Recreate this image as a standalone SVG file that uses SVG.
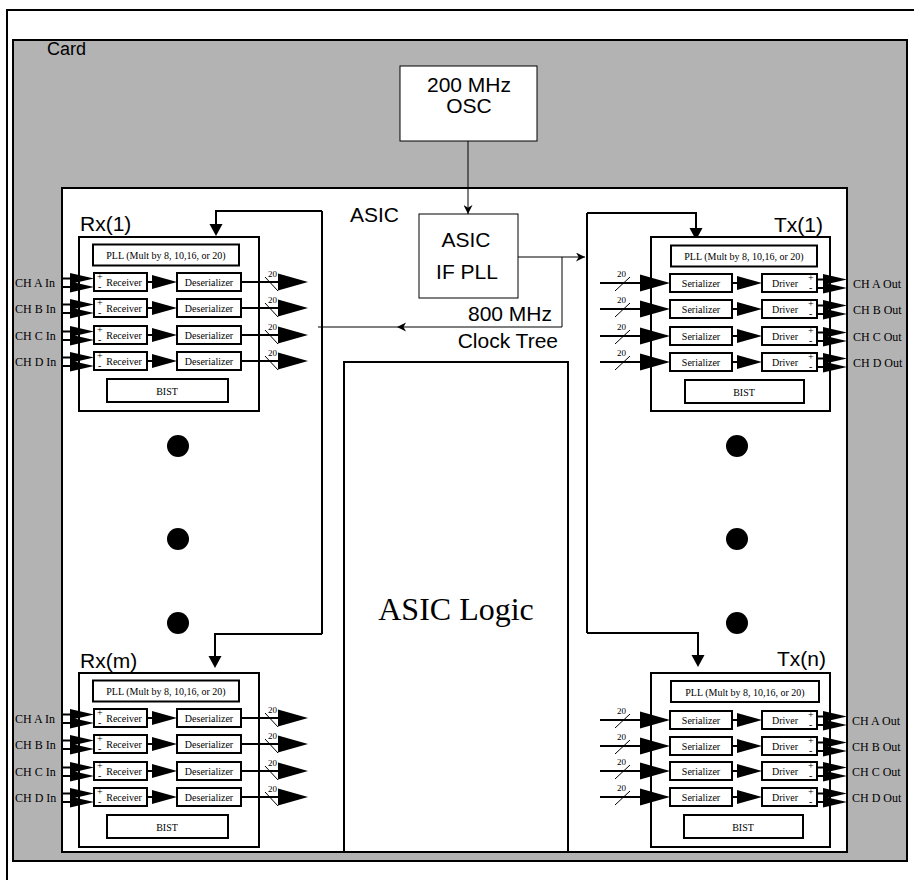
<svg xmlns="http://www.w3.org/2000/svg" width="914" height="880" viewBox="0 0 914 880">
<style>
.frame{fill:none;stroke:#000;stroke-width:2}
.card{fill:#b3b3b3;stroke:#000;stroke-width:2}
.wbox{fill:#fff;stroke:#000;stroke-width:2}
.tbox{fill:#fff;stroke:#000;stroke-width:1}
.bx{fill:#fff;stroke:#000;stroke-width:2}
.ln{fill:none;stroke:#000;stroke-width:2}
.thin{fill:none;stroke:#000;stroke-width:1}
.f{fill:#000;stroke:none}
.lbl{font-family:"Liberation Sans",Arial,sans-serif;font-size:21px;fill:#000}
.mid{text-anchor:middle}
.end{text-anchor:end}
.sm{font-family:"Liberation Serif","Times New Roman",serif;font-size:10px;text-anchor:middle;fill:#000}
.ch{font-family:"Liberation Serif","Times New Roman",serif;font-size:12px;fill:#000}
.pm{font-family:"Liberation Serif","Times New Roman",serif;font-size:10px;fill:#000}
.n20{font-family:"Liberation Serif","Times New Roman",serif;font-size:9px;fill:#000}
.big{font-family:"Liberation Serif","Times New Roman",serif;font-size:32px;text-anchor:middle;fill:#000}
</style>
<defs>
<marker id="ah" viewBox="0 0 10 10" refX="10" refY="5" markerWidth="9" markerHeight="9" markerUnits="userSpaceOnUse" orient="auto">
<path d="M0,0 L10,5 L0,10 L3,5 Z" fill="#000"/>
</marker>
</defs>
<rect width="914" height="880" fill="#fff"/>
<g id="outer"><rect class="frame" x="7" y="10" width="912" height="880"/></g>
<g id="card"><rect class="card" x="13" y="40" width="894" height="821"/><text class="lbl" x="47" y="55" style="font-size:18px">Card</text></g>
<g id="osc"><rect class="tbox" x="400" y="66" width="137" height="75"/><text class="lbl mid" x="469" y="92">200 MHz</text><text class="lbl mid" x="469" y="113">OSC</text></g>
<g id="asic"><rect class="wbox" x="62" y="188" width="785" height="664"/><text class="lbl" x="350" y="222">ASIC</text></g>
<g id="ifpll"><rect class="tbox" x="419" y="214" width="99" height="84"/><text class="lbl mid" x="466" y="247">ASIC</text><text class="lbl mid" x="467" y="279">IF PLL</text></g>
<g id="clocklabel"><text class="lbl end" x="552" y="321">800 MHz</text><text class="lbl end" x="558" y="348">Clock Tree</text></g>
<g id="asiclogic"><rect class="wbox" x="344" y="362" width="224" height="490"/><text class="big" x="456" y="620">ASIC Logic</text></g>

<g id="connectors">
<line class="thin" x1="468" y1="141" x2="468" y2="214" marker-end="url(#ah)"/>
<line class="thin" x1="518" y1="257" x2="585" y2="257" marker-end="url(#ah)"/>
<polyline class="thin" points="562,257 562,327 318,327"/>
<path class="f" d="M397,327 L406,322.5 L403.5,327 L406,331.5 Z"/>
<line class="ln" x1="322" y1="211" x2="322" y2="634"/>
<polyline class="ln" points="322,211 216,211 216,225"/>
<polygon class="f" points="216,236 209.5,224 222.5,224"/>
<polyline class="ln" points="322,634 215,634 215,657"/>
<polygon class="f" points="215,668 208.5,656 221.5,656"/>
<line class="ln" x1="587" y1="213" x2="587" y2="633"/>
<polyline class="ln" points="587,213 696,213 696,229"/>
<polygon class="f" points="696,240 689.5,228 702.5,228"/>
<polyline class="ln" points="587,633 698,633 698,656"/>
<polygon class="f" points="698,667 691.5,655 704.5,655"/>
</g>

<g id="dots">
<circle cx="178" cy="446" r="11"/><circle cx="178" cy="539" r="11"/><circle cx="178" cy="623" r="11"/>
<circle cx="737" cy="446" r="11"/><circle cx="737" cy="539" r="11"/><circle cx="737" cy="623" r="11"/>
</g>

<g id="rx1">
<text class="lbl" x="80" y="231">Rx(1)</text>
<rect class="bx" x="79" y="237" width="180" height="174"/>
<rect class="bx" x="93" y="244.5" width="146" height="21"/>
<text class="sm" x="166" y="259">PLL (Mult by 8, 10,16, or 20)</text>
<rect class="bx" x="107" y="379" width="121" height="23"/>
<text class="sm" x="167" y="395">BIST</text>
<g transform="translate(0,273)">
<text class="ch" x="15" y="14">CH A In</text>
<line class="ln" x1="63" y1="5.5" x2="75" y2="5.5"/><line class="ln" x1="63" y1="14" x2="75" y2="14"/>
<polygon class="f" points="94,5.5 70,0 70,11"/><polygon class="f" points="94,14 70,8.5 70,19.5"/>
<rect class="bx" x="94" y="0" width="53" height="18"/>
<text class="pm" x="97" y="7">+</text><text class="pm" x="98" y="17">-</text>
<text class="sm" x="124" y="13">Receiver</text>
<line class="ln" x1="147" y1="9" x2="156" y2="9"/><polygon class="f" points="177,9 152,2 152,16"/>
<rect class="bx" x="177" y="0" width="64" height="18"/>
<text class="sm" x="209" y="13">Deserializer</text>
<line class="ln" x1="241" y1="9" x2="282" y2="9"/><polygon class="f" points="308,9 278,0.5 278,17.5"/>
<line class="thin" x1="265" y1="4" x2="278" y2="18" stroke-width="1.2"/>
<text class="n20" x="268" y="4">20</text>
</g>
<g transform="translate(0,299)">
<text class="ch" x="15" y="14">CH B In</text>
<line class="ln" x1="63" y1="5.5" x2="75" y2="5.5"/><line class="ln" x1="63" y1="14" x2="75" y2="14"/>
<polygon class="f" points="94,5.5 70,0 70,11"/><polygon class="f" points="94,14 70,8.5 70,19.5"/>
<rect class="bx" x="94" y="0" width="53" height="18"/>
<text class="pm" x="97" y="7">+</text><text class="pm" x="98" y="17">-</text>
<text class="sm" x="124" y="13">Receiver</text>
<line class="ln" x1="147" y1="9" x2="156" y2="9"/><polygon class="f" points="177,9 152,2 152,16"/>
<rect class="bx" x="177" y="0" width="64" height="18"/>
<text class="sm" x="209" y="13">Deserializer</text>
<line class="ln" x1="241" y1="9" x2="282" y2="9"/><polygon class="f" points="308,9 278,0.5 278,17.5"/>
<line class="thin" x1="265" y1="4" x2="278" y2="18" stroke-width="1.2"/>
<text class="n20" x="268" y="4">20</text>
</g>
<g transform="translate(0,326)">
<text class="ch" x="15" y="14">CH C In</text>
<line class="ln" x1="63" y1="5.5" x2="75" y2="5.5"/><line class="ln" x1="63" y1="14" x2="75" y2="14"/>
<polygon class="f" points="94,5.5 70,0 70,11"/><polygon class="f" points="94,14 70,8.5 70,19.5"/>
<rect class="bx" x="94" y="0" width="53" height="18"/>
<text class="pm" x="97" y="7">+</text><text class="pm" x="98" y="17">-</text>
<text class="sm" x="124" y="13">Receiver</text>
<line class="ln" x1="147" y1="9" x2="156" y2="9"/><polygon class="f" points="177,9 152,2 152,16"/>
<rect class="bx" x="177" y="0" width="64" height="18"/>
<text class="sm" x="209" y="13">Deserializer</text>
<line class="ln" x1="241" y1="9" x2="282" y2="9"/><polygon class="f" points="308,9 278,0.5 278,17.5"/>
<line class="thin" x1="265" y1="4" x2="278" y2="18" stroke-width="1.2"/>
<text class="n20" x="268" y="4">20</text>
</g>
<g transform="translate(0,352)">
<text class="ch" x="15" y="14">CH D In</text>
<line class="ln" x1="63" y1="5.5" x2="75" y2="5.5"/><line class="ln" x1="63" y1="14" x2="75" y2="14"/>
<polygon class="f" points="94,5.5 70,0 70,11"/><polygon class="f" points="94,14 70,8.5 70,19.5"/>
<rect class="bx" x="94" y="0" width="53" height="18"/>
<text class="pm" x="97" y="7">+</text><text class="pm" x="98" y="17">-</text>
<text class="sm" x="124" y="13">Receiver</text>
<line class="ln" x1="147" y1="9" x2="156" y2="9"/><polygon class="f" points="177,9 152,2 152,16"/>
<rect class="bx" x="177" y="0" width="64" height="18"/>
<text class="sm" x="209" y="13">Deserializer</text>
<line class="ln" x1="241" y1="9" x2="282" y2="9"/><polygon class="f" points="308,9 278,0.5 278,17.5"/>
<line class="thin" x1="265" y1="4" x2="278" y2="18" stroke-width="1.2"/>
<text class="n20" x="268" y="4">20</text>
</g>
</g>

<g id="rxm">
<text class="lbl" x="80" y="668">Rx(m)</text>
<rect class="bx" x="79" y="673" width="180" height="174"/>
<rect class="bx" x="93" y="680.5" width="146" height="21"/>
<text class="sm" x="166" y="695">PLL (Mult by 8, 10,16, or 20)</text>
<rect class="bx" x="107" y="815" width="121" height="23"/>
<text class="sm" x="167" y="831">BIST</text>
<g transform="translate(0,709)">
<text class="ch" x="15" y="14">CH A In</text>
<line class="ln" x1="63" y1="5.5" x2="75" y2="5.5"/><line class="ln" x1="63" y1="14" x2="75" y2="14"/>
<polygon class="f" points="94,5.5 70,0 70,11"/><polygon class="f" points="94,14 70,8.5 70,19.5"/>
<rect class="bx" x="94" y="0" width="53" height="18"/>
<text class="pm" x="97" y="7">+</text><text class="pm" x="98" y="17">-</text>
<text class="sm" x="124" y="13">Receiver</text>
<line class="ln" x1="147" y1="9" x2="156" y2="9"/><polygon class="f" points="177,9 152,2 152,16"/>
<rect class="bx" x="177" y="0" width="64" height="18"/>
<text class="sm" x="209" y="13">Deserializer</text>
<line class="ln" x1="241" y1="9" x2="282" y2="9"/><polygon class="f" points="308,9 278,0.5 278,17.5"/>
<line class="thin" x1="265" y1="4" x2="278" y2="18" stroke-width="1.2"/>
<text class="n20" x="268" y="4">20</text>
</g>
<g transform="translate(0,735)">
<text class="ch" x="15" y="14">CH B In</text>
<line class="ln" x1="63" y1="5.5" x2="75" y2="5.5"/><line class="ln" x1="63" y1="14" x2="75" y2="14"/>
<polygon class="f" points="94,5.5 70,0 70,11"/><polygon class="f" points="94,14 70,8.5 70,19.5"/>
<rect class="bx" x="94" y="0" width="53" height="18"/>
<text class="pm" x="97" y="7">+</text><text class="pm" x="98" y="17">-</text>
<text class="sm" x="124" y="13">Receiver</text>
<line class="ln" x1="147" y1="9" x2="156" y2="9"/><polygon class="f" points="177,9 152,2 152,16"/>
<rect class="bx" x="177" y="0" width="64" height="18"/>
<text class="sm" x="209" y="13">Deserializer</text>
<line class="ln" x1="241" y1="9" x2="282" y2="9"/><polygon class="f" points="308,9 278,0.5 278,17.5"/>
<line class="thin" x1="265" y1="4" x2="278" y2="18" stroke-width="1.2"/>
<text class="n20" x="268" y="4">20</text>
</g>
<g transform="translate(0,762)">
<text class="ch" x="15" y="14">CH C In</text>
<line class="ln" x1="63" y1="5.5" x2="75" y2="5.5"/><line class="ln" x1="63" y1="14" x2="75" y2="14"/>
<polygon class="f" points="94,5.5 70,0 70,11"/><polygon class="f" points="94,14 70,8.5 70,19.5"/>
<rect class="bx" x="94" y="0" width="53" height="18"/>
<text class="pm" x="97" y="7">+</text><text class="pm" x="98" y="17">-</text>
<text class="sm" x="124" y="13">Receiver</text>
<line class="ln" x1="147" y1="9" x2="156" y2="9"/><polygon class="f" points="177,9 152,2 152,16"/>
<rect class="bx" x="177" y="0" width="64" height="18"/>
<text class="sm" x="209" y="13">Deserializer</text>
<line class="ln" x1="241" y1="9" x2="282" y2="9"/><polygon class="f" points="308,9 278,0.5 278,17.5"/>
<line class="thin" x1="265" y1="4" x2="278" y2="18" stroke-width="1.2"/>
<text class="n20" x="268" y="4">20</text>
</g>
<g transform="translate(0,788)">
<text class="ch" x="15" y="14">CH D In</text>
<line class="ln" x1="63" y1="5.5" x2="75" y2="5.5"/><line class="ln" x1="63" y1="14" x2="75" y2="14"/>
<polygon class="f" points="94,5.5 70,0 70,11"/><polygon class="f" points="94,14 70,8.5 70,19.5"/>
<rect class="bx" x="94" y="0" width="53" height="18"/>
<text class="pm" x="97" y="7">+</text><text class="pm" x="98" y="17">-</text>
<text class="sm" x="124" y="13">Receiver</text>
<line class="ln" x1="147" y1="9" x2="156" y2="9"/><polygon class="f" points="177,9 152,2 152,16"/>
<rect class="bx" x="177" y="0" width="64" height="18"/>
<text class="sm" x="209" y="13">Deserializer</text>
<line class="ln" x1="241" y1="9" x2="282" y2="9"/><polygon class="f" points="308,9 278,0.5 278,17.5"/>
<line class="thin" x1="265" y1="4" x2="278" y2="18" stroke-width="1.2"/>
<text class="n20" x="268" y="4">20</text>
</g>
</g>

<g id="tx1">
<text class="lbl" x="774" y="232">Tx(1)</text>
<rect class="bx" x="651" y="237" width="179" height="174"/>
<rect class="bx" x="671" y="245.5" width="146" height="21"/>
<text class="sm" x="744" y="260">PLL (Mult by 8, 10,16, or 20)</text>
<rect class="bx" x="685" y="380" width="119" height="23"/>
<text class="sm" x="744" y="396">BIST</text>
<g transform="translate(0,274)">
<line class="ln" x1="600" y1="9" x2="644" y2="9"/><line class="thin" x1="615" y1="17" x2="630" y2="3" stroke-width="1.2"/>
<text class="n20" x="617" y="3">20</text>
<polygon class="f" points="670,9 640,0.5 640,17.5"/>
<rect class="bx" x="670" y="0" width="62" height="18"/>
<text class="sm" x="701" y="13">Serializer</text>
<line class="ln" x1="732" y1="9" x2="741" y2="9"/><polygon class="f" points="762,9 737,2 737,16"/>
<rect class="bx" x="762" y="0" width="55" height="18"/>
<text class="sm" x="785" y="13">Driver</text>
<text class="pm" x="808" y="7">+</text><text class="pm" x="809" y="17">-</text>
<line class="ln" x1="817" y1="5.5" x2="828" y2="5.5"/><line class="ln" x1="817" y1="14" x2="828" y2="14"/>
<polygon class="f" points="847,5.5 823,0 823,11"/><polygon class="f" points="847,14 823,8.5 823,19.5"/>
<text class="ch" x="853" y="14">CH A Out</text>
</g>
<g transform="translate(0,300)">
<line class="ln" x1="600" y1="9" x2="644" y2="9"/><line class="thin" x1="615" y1="17" x2="630" y2="3" stroke-width="1.2"/>
<text class="n20" x="617" y="3">20</text>
<polygon class="f" points="670,9 640,0.5 640,17.5"/>
<rect class="bx" x="670" y="0" width="62" height="18"/>
<text class="sm" x="701" y="13">Serializer</text>
<line class="ln" x1="732" y1="9" x2="741" y2="9"/><polygon class="f" points="762,9 737,2 737,16"/>
<rect class="bx" x="762" y="0" width="55" height="18"/>
<text class="sm" x="785" y="13">Driver</text>
<text class="pm" x="808" y="7">+</text><text class="pm" x="809" y="17">-</text>
<line class="ln" x1="817" y1="5.5" x2="828" y2="5.5"/><line class="ln" x1="817" y1="14" x2="828" y2="14"/>
<polygon class="f" points="847,5.5 823,0 823,11"/><polygon class="f" points="847,14 823,8.5 823,19.5"/>
<text class="ch" x="853" y="14">CH B Out</text>
</g>
<g transform="translate(0,327)">
<line class="ln" x1="600" y1="9" x2="644" y2="9"/><line class="thin" x1="615" y1="17" x2="630" y2="3" stroke-width="1.2"/>
<text class="n20" x="617" y="3">20</text>
<polygon class="f" points="670,9 640,0.5 640,17.5"/>
<rect class="bx" x="670" y="0" width="62" height="18"/>
<text class="sm" x="701" y="13">Serializer</text>
<line class="ln" x1="732" y1="9" x2="741" y2="9"/><polygon class="f" points="762,9 737,2 737,16"/>
<rect class="bx" x="762" y="0" width="55" height="18"/>
<text class="sm" x="785" y="13">Driver</text>
<text class="pm" x="808" y="7">+</text><text class="pm" x="809" y="17">-</text>
<line class="ln" x1="817" y1="5.5" x2="828" y2="5.5"/><line class="ln" x1="817" y1="14" x2="828" y2="14"/>
<polygon class="f" points="847,5.5 823,0 823,11"/><polygon class="f" points="847,14 823,8.5 823,19.5"/>
<text class="ch" x="853" y="14">CH C Out</text>
</g>
<g transform="translate(0,353)">
<line class="ln" x1="600" y1="9" x2="644" y2="9"/><line class="thin" x1="615" y1="17" x2="630" y2="3" stroke-width="1.2"/>
<text class="n20" x="617" y="3">20</text>
<polygon class="f" points="670,9 640,0.5 640,17.5"/>
<rect class="bx" x="670" y="0" width="62" height="18"/>
<text class="sm" x="701" y="13">Serializer</text>
<line class="ln" x1="732" y1="9" x2="741" y2="9"/><polygon class="f" points="762,9 737,2 737,16"/>
<rect class="bx" x="762" y="0" width="55" height="18"/>
<text class="sm" x="785" y="13">Driver</text>
<text class="pm" x="808" y="7">+</text><text class="pm" x="809" y="17">-</text>
<line class="ln" x1="817" y1="5.5" x2="828" y2="5.5"/><line class="ln" x1="817" y1="14" x2="828" y2="14"/>
<polygon class="f" points="847,5.5 823,0 823,11"/><polygon class="f" points="847,14 823,8.5 823,19.5"/>
<text class="ch" x="853" y="14">CH D Out</text>
</g>
</g>

<g id="txn">
<text class="lbl" x="777" y="666">Tx(n)</text>
<rect class="bx" x="651" y="673" width="179" height="174"/>
<rect class="bx" x="671" y="681" width="148" height="21"/>
<text class="sm" x="745" y="695.5">PLL (Mult by 8, 10,16, or 20)</text>
<rect class="bx" x="684" y="815" width="119" height="23"/>
<text class="sm" x="743" y="831">BIST</text>
<g transform="translate(0,711)">
<line class="ln" x1="600" y1="9" x2="644" y2="9"/><line class="thin" x1="615" y1="17" x2="630" y2="3" stroke-width="1.2"/>
<text class="n20" x="617" y="3">20</text>
<polygon class="f" points="670,9 640,0.5 640,17.5"/>
<rect class="bx" x="670" y="0" width="62" height="18"/>
<text class="sm" x="701" y="13">Serializer</text>
<line class="ln" x1="732" y1="9" x2="741" y2="9"/><polygon class="f" points="762,9 737,2 737,16"/>
<rect class="bx" x="762" y="0" width="55" height="18"/>
<text class="sm" x="785" y="13">Driver</text>
<text class="pm" x="808" y="7">+</text><text class="pm" x="809" y="17">-</text>
<line class="ln" x1="817" y1="5.5" x2="828" y2="5.5"/><line class="ln" x1="817" y1="14" x2="828" y2="14"/>
<polygon class="f" points="847,5.5 823,0 823,11"/><polygon class="f" points="847,14 823,8.5 823,19.5"/>
<text class="ch" x="852" y="14">CH A Out</text>
</g>
<g transform="translate(0,737)">
<line class="ln" x1="600" y1="9" x2="644" y2="9"/><line class="thin" x1="615" y1="17" x2="630" y2="3" stroke-width="1.2"/>
<text class="n20" x="617" y="3">20</text>
<polygon class="f" points="670,9 640,0.5 640,17.5"/>
<rect class="bx" x="670" y="0" width="62" height="18"/>
<text class="sm" x="701" y="13">Serializer</text>
<line class="ln" x1="732" y1="9" x2="741" y2="9"/><polygon class="f" points="762,9 737,2 737,16"/>
<rect class="bx" x="762" y="0" width="55" height="18"/>
<text class="sm" x="785" y="13">Driver</text>
<text class="pm" x="808" y="7">+</text><text class="pm" x="809" y="17">-</text>
<line class="ln" x1="817" y1="5.5" x2="828" y2="5.5"/><line class="ln" x1="817" y1="14" x2="828" y2="14"/>
<polygon class="f" points="847,5.5 823,0 823,11"/><polygon class="f" points="847,14 823,8.5 823,19.5"/>
<text class="ch" x="852" y="14">CH B Out</text>
</g>
<g transform="translate(0,762)">
<line class="ln" x1="600" y1="9" x2="644" y2="9"/><line class="thin" x1="615" y1="17" x2="630" y2="3" stroke-width="1.2"/>
<text class="n20" x="617" y="3">20</text>
<polygon class="f" points="670,9 640,0.5 640,17.5"/>
<rect class="bx" x="670" y="0" width="62" height="18"/>
<text class="sm" x="701" y="13">Serializer</text>
<line class="ln" x1="732" y1="9" x2="741" y2="9"/><polygon class="f" points="762,9 737,2 737,16"/>
<rect class="bx" x="762" y="0" width="55" height="18"/>
<text class="sm" x="785" y="13">Driver</text>
<text class="pm" x="808" y="7">+</text><text class="pm" x="809" y="17">-</text>
<line class="ln" x1="817" y1="5.5" x2="828" y2="5.5"/><line class="ln" x1="817" y1="14" x2="828" y2="14"/>
<polygon class="f" points="847,5.5 823,0 823,11"/><polygon class="f" points="847,14 823,8.5 823,19.5"/>
<text class="ch" x="852" y="14">CH C Out</text>
</g>
<g transform="translate(0,788)">
<line class="ln" x1="600" y1="9" x2="644" y2="9"/><line class="thin" x1="615" y1="17" x2="630" y2="3" stroke-width="1.2"/>
<text class="n20" x="617" y="3">20</text>
<polygon class="f" points="670,9 640,0.5 640,17.5"/>
<rect class="bx" x="670" y="0" width="62" height="18"/>
<text class="sm" x="701" y="13">Serializer</text>
<line class="ln" x1="732" y1="9" x2="741" y2="9"/><polygon class="f" points="762,9 737,2 737,16"/>
<rect class="bx" x="762" y="0" width="55" height="18"/>
<text class="sm" x="785" y="13">Driver</text>
<text class="pm" x="808" y="7">+</text><text class="pm" x="809" y="17">-</text>
<line class="ln" x1="817" y1="5.5" x2="828" y2="5.5"/><line class="ln" x1="817" y1="14" x2="828" y2="14"/>
<polygon class="f" points="847,5.5 823,0 823,11"/><polygon class="f" points="847,14 823,8.5 823,19.5"/>
<text class="ch" x="852" y="14">CH D Out</text>
</g>
</g>
</svg>
